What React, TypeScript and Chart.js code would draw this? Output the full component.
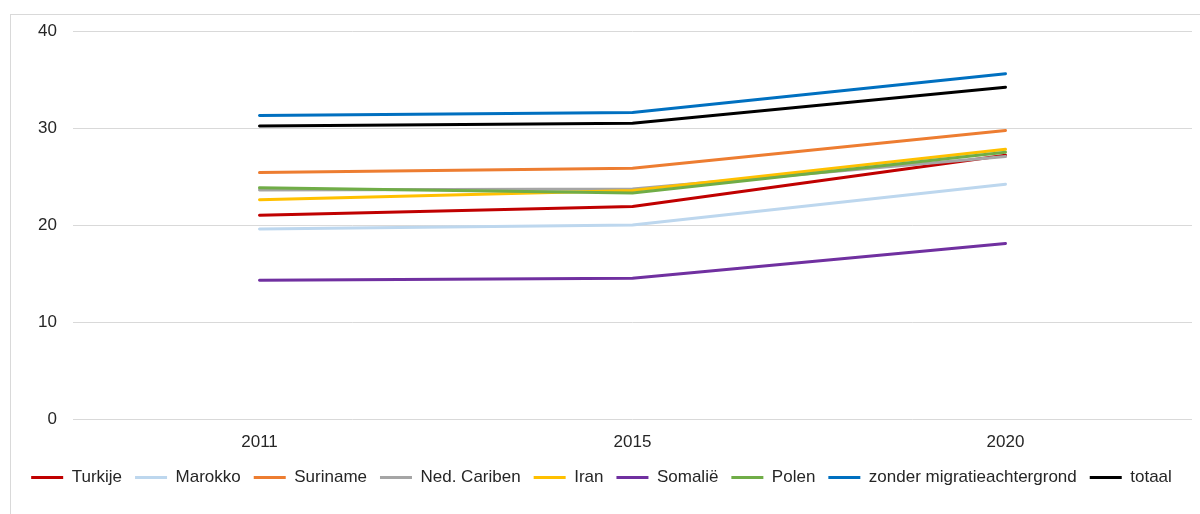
import React, { useEffect, useRef } from "react";
import { Chart, registerables } from "chart.js";

Chart.register(...registerables);

const years = ["2011", "2015", "2020"];

const seriesNames = [
  "Turkije",
  "Marokko",
  "Suriname",
  "Ned. Cariben",
  "Iran",
  "Somalië",
  "Polen",
  "zonder migratieachtergrond",
  "totaal",
];

const turkije = [21.0, 21.9, 27.2];
const marokko = [19.6, 20.0, 24.2];
const suriname = [25.4, 25.85, 29.75];
const nedCariben = [23.6, 23.7, 27.05];
const iran = [22.6, 23.55, 27.8];
const somalie = [14.3, 14.5, 18.1];
const polen = [23.85, 23.3, 27.5];
const zonder = [31.3, 31.6, 35.6];
const totaal = [30.2, 30.5, 34.2];

const seriesValues = [turkije, marokko, suriname, nedCariben, iran, somalie, polen, zonder, totaal];

const seriesColors = [
  "#C00000",
  "#BDD7EE",
  "#ED7D31",
  "#A5A5A5",
  "#FFC000",
  "#7030A0",
  "#70AD47",
  "#0070C0",
  "#000000",
];

const yTicks = [0, 10, 20, 30, 40];

const FONT = "'Liberation Sans', Arial, sans-serif";

export default function App() {
  const ref = useRef<HTMLCanvasElement | null>(null);

  useEffect(() => {
    document.body.style.overflow = "hidden";
    if (!ref.current) return;
    const chart = new Chart(ref.current, {
      type: "line",
      data: {
        labels: years,
        datasets: seriesNames.map((name, i) => ({
          label: name,
          data: seriesValues[i],
          borderColor: seriesColors[i],
          backgroundColor: seriesColors[i],
          borderWidth: 3,
          pointRadius: 0,
          pointHoverRadius: 0,
          tension: 0,
          borderCapStyle: "round" as const,
          borderJoinStyle: "round" as const,
          fill: false,
          order: seriesNames.length - i,
        })),
      },
      options: {
        animation: false,
        responsive: false,
        maintainAspectRatio: false,
        layout: { padding: { left: 0, right: 8, top: 16, bottom: 18 } },
        plugins: {
          tooltip: { enabled: false },
          legend: {
            position: "bottom",
            labels: {
              boxWidth: 32,
              boxHeight: 3,
              padding: 13,
              color: "#262626",
              font: { family: FONT, size: 17 },
              generateLabels: (c: any) =>
                c.data.datasets.map((ds: any, i: number) => ({
                  text: ds.label,
                  fillStyle: ds.borderColor,
                  strokeStyle: ds.borderColor,
                  lineWidth: 0,
                  hidden: false,
                  datasetIndex: i,
                  fontColor: "#262626",
                })),
            },
          },
        },
        scales: {
          x: {
            offset: true,
            grid: { display: false, drawTicks: false },
            border: { display: false },
            ticks: {
              padding: 13,
              color: "#262626",
              font: { family: FONT, size: 17 },
            },
            afterFit: (s: any) => {
              s.height = 37;
            },
          },
          y: {
            min: 0,
            max: 40,
            afterBuildTicks: (s: any) => {
              s.ticks = yTicks.map((v) => ({ value: v }));
            },
            grid: {
              color: "#D9D9D9",
              lineWidth: 1,
              drawTicks: true,
              tickLength: 14,
              tickColor: "rgba(0,0,0,0)",
            },
            border: { display: false },
            ticks: {
              padding: 2,
              color: "#262626",
              font: { family: FONT, size: 17 },
            },
            afterFit: (s: any) => {
              s.width = 62;
            },
          },
        },
      },
    });
    return () => chart.destroy();
  }, []);

  return (
    <div
      style={{
        position: "absolute",
        left: 10,
        top: 14,
        width: 1189,
        height: 499,
        borderLeft: "1px solid #D9D9D9",
        borderTop: "1px solid #D9D9D9",
        background: "#fff",
      }}
    >
      <canvas ref={ref} width={1189} height={499} style={{ display: "block" }} />
    </div>
  );
}
